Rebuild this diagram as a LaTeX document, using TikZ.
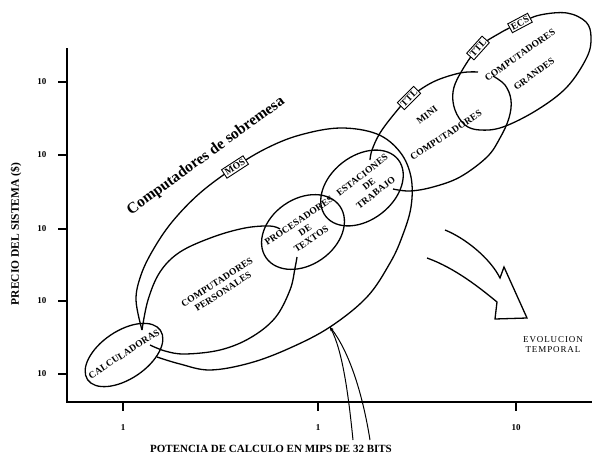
\documentclass[tikz,border=0pt]{standalone}
\usepackage{fontspec}
\setmainfont{Liberation Serif}
\newfontfamily\handfont[LetterSpace=2]{Liberation Serif}
\newfontfamily\widefont[LetterSpace=10]{Liberation Serif}
\usetikzlibrary{arrows.meta}
\begin{document}
\begin{tikzpicture}[x=1pt,y=-1pt,line width=1.3pt,
    tag/.style={draw,fill=white,inner sep=1.8pt,line width=0.9pt,
      font=\fontsize{9.5}{10}\selectfont\handfont\bfseries},
    zone/.style={font=\fontsize{9.5}{11}\selectfont\handfont\bfseries,align=center,inner sep=1pt},
    ticklbl/.style={font=\fontsize{9}{10}\selectfont\bfseries},
    axislbl/.style={font=\fontsize{11}{13}\selectfont\bfseries}
    ]
    \useasboundingbox (0,0) rectangle (592,458);

    % ejes
    \coordinate (ytop) at (67,48);
    \coordinate (orig) at (67,402);
    \coordinate (xend) at (592,402);
    \draw (ytop) -- (orig) -- (xend);
    \foreach \y/\n in {82/a,155/b,229/c,301/d,374/e}{
        \draw (58,\y) -- (67,\y);
        \node[ticklbl] (ten\n) at (42,\y) {10};
    }
    \foreach \x/\t/\n in {123/1/a,318/1/b,516/10/c}{
        \draw (\x,402) -- (\x,411);
        \node[ticklbl] (mips\n) at (\x,428) {\t};
    }
    \node[axislbl] (xlabel) at (271,449) {POTENCIA DE CALCULO EN MIPS DE 32 BITS};
    \node[axislbl,font=\fontsize{11.5}{13}\selectfont\bfseries,rotate=90] (ylabel)
        at (16,234) {PRECIO DEL SISTEMA (\$)};

    % calculadoras
    \draw[rotate around={34:(124,355)}] (124,355) ellipse (44pt and 24pt);
    % computadores de sobremesa
    \draw plot[smooth,tension=0.6] coordinates {(142,330) (136,300) (141,275)
        (153,250) (172,222) (200,193) (235,167) (267,148) (300,135) (340,128)
        (377,134) (400,152) (411,177) (411,207) (402,237) (390,263) (367,297)
        (330,327) (290,348) (250,363) (210,370) (180,364) (157,357)};
    % computadores personales
    \draw plot[smooth,tension=0.6] coordinates {(142,330) (148,300) (160,272)
        (180,252) (213,237) (245,228) (270,226) (280,229)};
    \draw plot[smooth,tension=0.6] coordinates {(297,257) (295,268) (290,290)
        (275,318) (250,338) (220,350) (185,354) (165,351) (150,345)};
    % procesadores y estaciones
    \draw[rotate around={35:(303,232)}] (303,232) ellipse (45pt and 33pt);
    \draw[rotate around={38:(362,188)}] (362,188) ellipse (46pt and 32pt);
    % mini computadores
    \draw plot[smooth,tension=0.6] coordinates {(370,160) (372,150) (380,133)
        (395,113) (409,98) (433,82) (460,73) (478,72)};
    \draw plot[smooth,tension=0.6] coordinates {(493,76) (505,85) (511,100)
        (509,118) (500,138) (487,157) (460,177) (433,187) (410,191) (393,189)};
    % computadores grandes
    \draw plot[smooth cycle,tension=0.6] coordinates {(460,74) (478,48)
        (500,33) (520,23) (540,15) (567,13) (586,22) (591,37) (587,57)
        (567,87) (537,110) (503,127) (480,130) (465,125) (455,110) (453,92)};

    % tecnologias
    \node[tag,rotate=33] (mos) at (235,167) {MOS};
    \node[tag,rotate=45] (ttla) at (409,98) {TTL};
    \node[tag,rotate=48] (ttlb) at (478,48) {TTL};
    \node[tag,rotate=28] (ecs) at (520,23) {ECS};

    % rotulos
    \node[rotate=36,font=\fontsize{15.5}{17}\selectfont\bfseries] (sobremesa)
        at (206,156) {Computadores de sobremesa};
    \node[zone,rotate=33] (calc) at (124,354) {CALCULADORAS};
    \node[zone,rotate=33] (pers) at (220,287) {COMPUTADORES\\PERSONALES};
    \node[zone,rotate=34] (proc) at (305,230) {PROCESADORES\\DE\\TEXTOS};
    \node[zone,rotate=38] (estac) at (369,184) {ESTACIONES\\DE\\TRABAJO};
    \node[zone,rotate=38] (mini) at (427,115) {MINI};
    \node[zone,rotate=33] (minicomp) at (446,135) {COMPUTADORES};
    \node[zone,rotate=35] (grandcomp) at (520,55) {COMPUTADORES};
    \node[zone,rotate=36] (grandes) at (534,74) {GRANDES};

    % flechas
    \coordinate (tip) at (330,327);
    \coordinate (ptra) at (353,440);
    \coordinate (ptrb) at (370,440);
    \draw[line width=1pt,-{Stealth[length=4pt]}] (ptra) .. controls (348,390) and (342,350) .. (tip);
    \draw[line width=1pt,-{Stealth[length=4pt]}] (ptrb) .. controls (362,390) and (348,350) .. (tip);
    \draw (445,230) .. controls (465,238) and (490,258) .. (500,278) -- (504,267)
        -- (527,318) -- (495,319) -- (497,302)
        .. controls (480,288) and (455,268) .. (427,258);
    \node[font=\fontsize{9}{10}\selectfont\widefont,align=center] (evol) at (553,345)
        {EVOLUCION\\TEMPORAL};
\end{tikzpicture}
\end{document}
